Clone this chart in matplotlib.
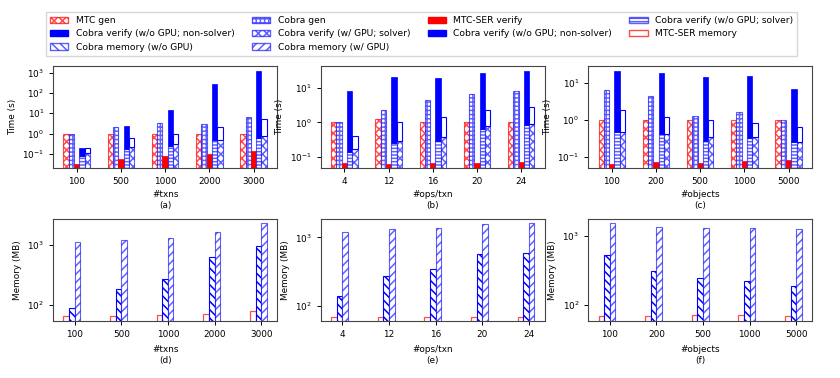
import numpy as np
import matplotlib
matplotlib.use("Agg")
import matplotlib.pyplot as plt
from matplotlib.patches import Patch

plt.rcParams['font.family'] = ['DejaVu Sans']
plt.rcParams['font.size'] = 6.4
plt.rcParams['hatch.linewidth'] = 1.1

# ---------------- data ----------------
txns = ["100", "500", "1000", "2000", "3000"]
ops = ["4", "12", "16", "20", "24"]
objs = ["100", "200", "500", "1000", "5000"]

# (a) time vs #txns
a_mtc_gen = [1.0, 1.0, 1.0, 1.0, 1.0]
a_cobra_gen = [1.0, 2.1, 3.3, 3.1, 6.3]
a_mtc_ser = [0.033, 0.055, 0.074, 0.10, 0.14]
a_nogpu_solver = [0.078, 0.18, 0.24, 0.47, 0.63]
a_nogpu_nonsolver = [0.12, 2.2, 14.8, 290, 1200]
a_gpu_solver = [0.11, 0.22, 0.30, 0.47, 0.74]
a_gpu_nonsolver = [0.08, 0.35, 0.70, 1.7, 4.2]

# (b) time vs #ops/txn
b_mtc_gen = [1.0, 1.25, 1.0, 1.0, 1.0]
b_cobra_gen = [1.0, 2.25, 4.3, 6.4, 8.2]
b_mtc_ser = [0.069, 0.064, 0.070, 0.067, 0.075]
b_nogpu_solver = [0.145, 0.26, 0.30, 0.64, 0.86]
b_nogpu_nonsolver = [7.65, 19.7, 19.0, 25.0, 28.1]
b_gpu_solver = [0.17, 0.29, 0.37, 0.78, 0.92]
b_gpu_nonsolver = [0.24, 0.71, 1.03, 1.52, 1.78]

# (c) time vs #objects
c_mtc_gen = [1.0, 1.0, 1.0, 1.0, 1.0]
c_cobra_gen = [6.4, 4.25, 1.23, 1.64, 1.0]
c_mtc_ser = [0.066, 0.073, 0.068, 0.076, 0.081]
c_nogpu_solver = [0.48, 0.40, 0.27, 0.33, 0.25]
c_nogpu_nonsolver = [20.5, 18.0, 13.7, 14.7, 6.35]
c_gpu_solver = [0.47, 0.40, 0.34, 0.34, 0.25]
c_gpu_nonsolver = [1.39, 0.80, 0.64, 0.47, 0.38]

# memory (MB)
d_mtc_mem = [65, 65, 68, 70, 77]
d_cobra_mem_nogpu = [87, 186, 265, 620, 960]
d_cobra_mem_gpu = [1120, 1200, 1300, 1650, 2350]

e_mtc_mem = [69, 69, 69, 69, 69]
e_cobra_mem_nogpu = [140, 272, 340, 570, 600]
e_cobra_mem_gpu = [1180, 1310, 1370, 1550, 1600]

f_mtc_mem = [68, 68, 70, 70, 69]
f_cobra_mem_nogpu = [525, 305, 240, 218, 187]
f_cobra_mem_gpu = [1510, 1350, 1290, 1290, 1240]

# ---------------- style ----------------
RED_L = (1, 0, 0, 0.7)
BLUE_L = (0, 0, 1, 0.62)
W = 0.12

fig = plt.figure(figsize=(8.4, 3.78), dpi=100)

def finish(ax, labels, ylabel, xlabel, ylim, pad):
    ax.set_yscale('log')
    ax.set_ylim(*ylim)
    ax.set_xticks(np.arange(len(labels)))
    ax.set_xticklabels(labels)
    ax.minorticks_off()
    ax.set_ylabel(ylabel)
    ax.set_xlabel(xlabel, labelpad=pad)
    ax.tick_params(length=3, width=0.7)
    for s in ax.spines.values():
        s.set_edgecolor('#444444')

def time_ax(pos, labels, mg, cg, ms, ns, nn, gs, gn, xlabel, ylim):
    ax = fig.add_axes(pos)
    x = np.arange(len(labels))
    ax.bar(x - 2 * W, mg, W, color='white', edgecolor=RED_L, hatch='xxxx', linewidth=0.8)
    ax.bar(x - 1 * W, cg, W, color='white', edgecolor=BLUE_L, hatch='++++', linewidth=0.8)
    ax.bar(x, ms, W, color='red', edgecolor='red', linewidth=0.5)
    ax.bar(x + 1 * W, ns, W, color='white', edgecolor=BLUE_L, hatch='-----', linewidth=0.8)
    ax.bar(x + 1 * W, nn, W, bottom=ns, color='blue', edgecolor='blue', linewidth=0.5)
    ax.bar(x + 2 * W, gs, W, color='white', edgecolor=BLUE_L, hatch='xxxx', linewidth=0.8)
    ax.bar(x + 2 * W, gn, W, bottom=gs, color='white', edgecolor='blue', linewidth=0.8)
    finish(ax, labels, 'Time (s)', xlabel, ylim, 3)
    return ax

def mem_ax(pos, labels, mm, mn, mgpu, xlabel, ylim):
    ax = fig.add_axes(pos)
    x = np.arange(len(labels))
    ax.bar(x - 1.5 * W, mm, W, color='white', edgecolor=RED_L, linewidth=0.9)
    ax.bar(x - 0.5 * W, mn, W, color='white', edgecolor='blue', hatch='\\\\\\\\', linewidth=0.8)
    ax.bar(x + 0.5 * W, mgpu, W, color='white', edgecolor=BLUE_L, hatch='////', linewidth=0.8)
    finish(ax, labels, 'Memory (MB)', xlabel, ylim, 4.5)
    return ax

top_b, bot_b, h = 0.5556, 0.1508, 0.2698
lefts = [0.0634, 0.3821, 0.7004]
w_ax = 0.2663

time_ax([lefts[0], top_b, w_ax, h], txns, a_mtc_gen, a_cobra_gen, a_mtc_ser,
        a_nogpu_solver, a_nogpu_nonsolver, a_gpu_solver, a_gpu_nonsolver,
        '#txns\n(a)', (0.02, 2130))
time_ax([lefts[1], top_b, w_ax, h], ops, b_mtc_gen, b_cobra_gen, b_mtc_ser,
        b_nogpu_solver, b_nogpu_nonsolver, b_gpu_solver, b_gpu_nonsolver,
        '#ops/txn\n(b)', (0.049, 41.6))
time_ax([lefts[2], top_b, w_ax, h], objs, c_mtc_gen, c_cobra_gen, c_mtc_ser,
        c_nogpu_solver, c_nogpu_nonsolver, c_gpu_solver, c_gpu_nonsolver,
        '#objects\n(c)', (0.05, 28))

mem_ax([lefts[0], bot_b, w_ax, h], txns, d_mtc_mem, d_cobra_mem_nogpu, d_cobra_mem_gpu,
       '#txns\n(d)', (53, 2730))
mem_ax([lefts[1], bot_b, w_ax, h], ops, e_mtc_mem, e_cobra_mem_nogpu, e_cobra_mem_gpu,
       '#ops/txn\n(e)', (60, 1850))
mem_ax([lefts[2], bot_b, w_ax, h], objs, f_mtc_mem, f_cobra_mem_nogpu, f_cobra_mem_gpu,
       '#objects\n(f)', (58, 1750))

# ---------------- legend ----------------
H = {
    'MTC gen': Patch(facecolor='white', edgecolor=RED_L, hatch='xxxx'),
    'Cobra gen': Patch(facecolor='white', edgecolor=BLUE_L, hatch='++++'),
    'MTC-SER verify': Patch(facecolor='red', edgecolor='red'),
    'Cobra verify (w/o GPU; solver)': Patch(facecolor='white', edgecolor=BLUE_L, hatch='-----'),
    'Cobra verify (w/o GPU; non-solver)': Patch(facecolor='blue', edgecolor='blue'),
    'Cobra verify (w/ GPU; solver)': Patch(facecolor='white', edgecolor=BLUE_L, hatch='xxxx'),
    'Cobra verify (w/o GPU; non-solver) 2': Patch(facecolor='blue', edgecolor='blue'),
    'MTC-SER memory': Patch(facecolor='white', edgecolor=RED_L),
    'Cobra memory (w/o GPU)': Patch(facecolor='white', edgecolor=BLUE_L, hatch='\\\\\\\\'),
    'Cobra memory (w/ GPU)': Patch(facecolor='white', edgecolor=BLUE_L, hatch='////'),
}
order = ['MTC gen', 'Cobra verify (w/o GPU; non-solver)', 'Cobra memory (w/o GPU)',
         'Cobra gen', 'Cobra verify (w/ GPU; solver)', 'Cobra memory (w/ GPU)',
         'MTC-SER verify', 'Cobra verify (w/o GPU; non-solver) 2',
         'Cobra verify (w/o GPU; solver)', 'MTC-SER memory']
handles = [H[k] for k in order]
labels = [k.replace(' 2', '') for k in order]
fig.legend(handles, labels, ncol=4, loc='upper center', bbox_to_anchor=(0.502, 0.98),
           fontsize=6.6, frameon=True, handlelength=2.0, columnspacing=1.9,
           labelspacing=0.45, borderpad=0.45, fancybox=False, edgecolor='#cccccc')

fig.savefig('out.png', dpi=100)
